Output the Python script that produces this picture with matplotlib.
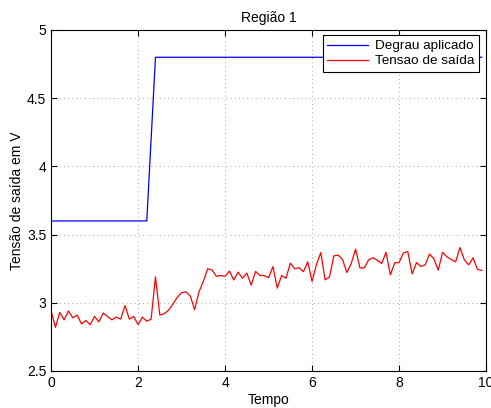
import numpy as np
import matplotlib.pyplot as plt

plt.rcParams['font.family'] = ['Liberation Sans', 'DejaVu Sans']

tempo = np.round(np.arange(0, 10.0, 0.1), 1)

degrau = [3.6] * 23 + [4.2] + [4.8] * 76

saida = [2.94, 2.82, 2.93, 2.875, 2.94, 2.89, 2.91, 2.845, 2.87, 2.84,
         2.90, 2.86, 2.925, 2.90, 2.875, 2.895, 2.88, 2.98, 2.88, 2.90,
         2.84, 2.895, 2.865, 2.88, 3.19, 2.91, 2.92, 2.945, 2.99, 3.04,
         3.074, 3.08, 3.05, 2.95, 3.08, 3.157, 3.25, 3.24, 3.194, 3.20,
         3.194, 3.233, 3.167, 3.225, 3.18, 3.218, 3.13, 3.23, 3.20, 3.20,
         3.184, 3.265, 3.108, 3.20, 3.18, 3.29, 3.25, 3.257, 3.228, 3.30,
         3.157, 3.28, 3.368, 3.168, 3.19, 3.344, 3.35, 3.317, 3.222, 3.288,
         3.393, 3.256, 3.256, 3.315, 3.33, 3.312, 3.288, 3.37, 3.205, 3.293,
         3.295, 3.366, 3.375, 3.212, 3.295, 3.266, 3.278, 3.358, 3.322, 3.24,
         3.37, 3.337, 3.317, 3.30, 3.405, 3.315, 3.278, 3.33, 3.246, 3.237]

fig = plt.figure(figsize=(4.91, 4.08), dpi=100)
ax = fig.add_axes([0.104, 0.0907, 0.886, 0.8358])

ax.plot(tempo, degrau, color="blue", linewidth=0.9, label="Degrau aplicado")
ax.plot(tempo, saida, color="red", linewidth=0.9, label="Tensao de saída")

ax.set_xlim(0, 10)
ax.set_ylim(2.5, 5)
ax.set_xticks([0, 2, 4, 6, 8, 10])
ax.set_yticks([2.5, 3, 3.5, 4, 4.5, 5])
ax.set_yticklabels(["2.5", "3", "3.5", "4", "4.5", "5"])
ax.grid(True, linestyle=(0, (1, 4)), color="0.55", linewidth=0.6)
ax.tick_params(direction="in", top=True, right=True, labelsize=10, length=4)
for s in ax.spines.values():
    s.set_linewidth(0.8)

ax.set_title("Região 1", fontsize=10)
ax.set_xlabel("Tempo", fontsize=10, labelpad=2)
ax.set_ylabel("Tensão de saída em V", fontsize=10, labelpad=2)

leg = ax.legend(loc="upper right", bbox_to_anchor=(0.983, 0.985), fontsize=9.7,
                fancybox=False, framealpha=1, edgecolor="black",
                borderaxespad=0, handlelength=3.0, handletextpad=0.5,
                borderpad=0.35, labelspacing=0.2)
leg.get_frame().set_linewidth(0.8)

fig.savefig("out.png", dpi=100)
